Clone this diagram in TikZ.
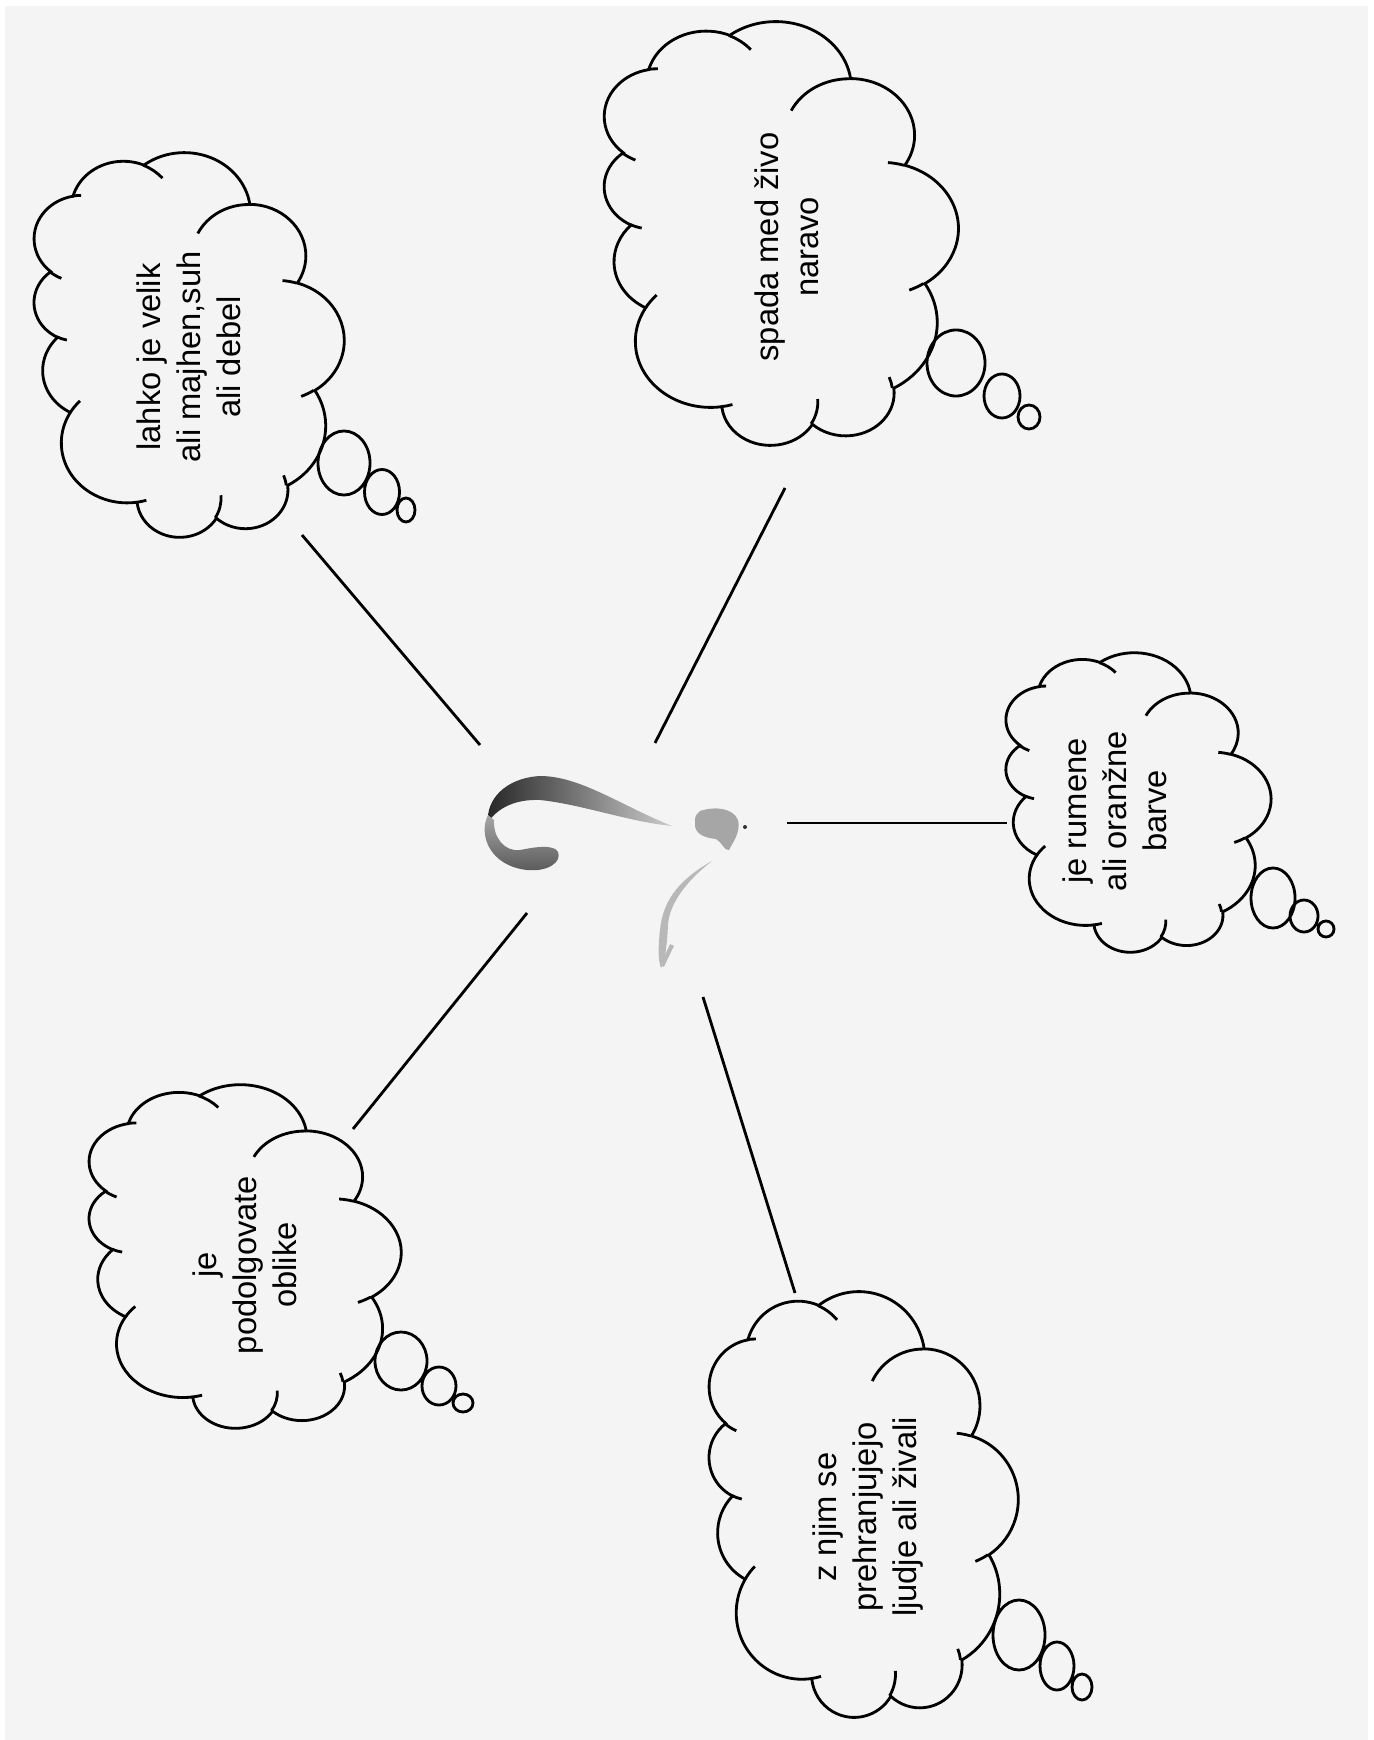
\documentclass[tikz,border=0pt]{standalone}
\usepackage{fontspec}
\setmainfont{Liberation Sans}
\definecolor{paper}{RGB}{244,244,244}

% thought cloud in a 4.32 x 4.32 box, drawn lying on its side later
\newcommand\cloudpath{%
  \draw (0.3900,-1.4370)
    arc[start angle=187.75, end angle=59.66, x radius=0.6753, y radius=0.9190]
    arc[start angle=152.02, end angle=45.46, x radius=0.5333, y radius=0.7267]
    arc[start angle=153.49, end angle=37.33, x radius=0.4365, y radius=0.5945]
    arc[start angle=139.71, end angle=10.22, x radius=0.4857, y radius=0.6595]
    arc[start angle=74.77, end angle=-23.21, x radius=0.5333, y radius=0.7273]
    arc[start angle=37.53, end angle=-81.86, x radius=0.6775, y radius=0.9220]
    arc[start angle=-0.46, end angle=-121.99, x radius=0.5785, y radius=0.7867]
    arc[start angle=-16.85, end angle=-146.23, x radius=0.6752, y radius=0.9215]
    arc[start angle=-58.97, end angle=-150.18, x radius=0.7720, y radius=1.0543]
    arc[start angle=276.69, end angle=136.88, x radius=0.4360, y radius=0.5918]
    arc[start angle=239.64, end angle=95.89, x radius=0.4345, y radius=0.5945]
    -- cycle;
  \draw (0.4693,-2.6177) arc[start angle=-85.54, end angle=-120.36, x radius=0.4345, y radius=0.5945]
    (0.6928,-3.4899) arc[start angle=-68.24, end angle=-83.31, x radius=0.4360, y radius=0.5918]
    (1.6478,-3.9090) arc[start angle=-146.23, end angle=-158.47, x radius=0.6752, y radius=0.9215]
    (2.8827,-3.4751) arc[start angle=-4.74, end angle=-16.85, x radius=0.6752, y radius=0.9215]
    (3.4129,-2.2954) arc[start angle=64.03, end angle=-0.46, x radius=0.5785, y radius=0.7867]
    (4.1798,-1.5354) arc[start angle=-23.21, end angle=-49.64, x radius=0.5333, y radius=0.7273]
    (3.8324,-0.5426) arc[start angle=10.22, end angle=-0.82, x radius=0.4857, y radius=0.6595]
    (2.9078,-0.3952) arc[start angle=156.30, end angle=139.71, x radius=0.4857, y radius=0.6595]
    (2.2141,-0.4720) arc[start angle=167.72, end angle=153.49, x radius=0.4365, y radius=0.5945]
    (1.4000,-0.5192) arc[start angle=59.66, end angle=45.75, x radius=0.6753, y radius=0.9190]
    (0.4127,-1.5789) arc[start angle=-163.19, end angle=-172.25, x radius=0.6753, y radius=0.9190];
}

\tikzset{
  thought/.style={font=\fontsize{9.3}{11.4}\selectfont, align=center, rotate=90, inner sep=0pt},
  puff/.style={line width=0.8pt}
}

\begin{document}
\begin{tikzpicture}[x=0.01cm, y=-0.01cm, line width=0.8pt]
    \useasboundingbox (0,0) rectangle (1374,1740);
    \fill[paper] (5,6) rectangle (1368,1740);

    % clouds
    \begin{scope}[shift={(33,537)}, x=1cm, y=1cm, xscale=310/432, yscale=384/432, rotate=90]
        \cloudpath
    \end{scope}
    \begin{scope}[shift={(603,445)}, x=1cm, y=1cm, xscale=354/432, yscale=423/432, rotate=90]
        \cloudpath
    \end{scope}
    \begin{scope}[shift={(1005,952)}, x=1cm, y=1cm, xscale=265/432, yscale=299/432, rotate=90]
        \cloudpath
    \end{scope}
    \begin{scope}[shift={(88,1428)}, x=1cm, y=1cm, xscale=312/432, yscale=343/432, rotate=90]
        \cloudpath
    \end{scope}
    \begin{scope}[shift={(708,1717)}, x=1cm, y=1cm, xscale=309/432, yscale=425/432, rotate=90]
        \cloudpath
    \end{scope}

    % little bubbles
    \draw[puff] (344,463) ellipse [x radius=0.26cm, y radius=0.32cm]
                (382,492) ellipse [x radius=0.175cm, y radius=0.225cm]
                (406,510) ellipse [x radius=0.09cm, y radius=0.12cm];
    \draw[puff] (956,363) ellipse [x radius=0.29cm, y radius=0.33cm]
                (1002,396) ellipse [x radius=0.18cm, y radius=0.22cm]
                (1029,417) ellipse [x radius=0.11cm, y radius=0.12cm];
    \draw[puff] (1273,898) ellipse [x radius=0.22cm, y radius=0.30cm]
                (1304,916) ellipse [x radius=0.14cm, y radius=0.16cm]
                (1326,929) ellipse [x radius=0.08cm, y radius=0.08cm];
    \draw[puff] (401,1361) ellipse [x radius=0.26cm, y radius=0.29cm]
                (439,1386) ellipse [x radius=0.17cm, y radius=0.19cm]
                (463,1403) ellipse [x radius=0.10cm, y radius=0.09cm];
    \draw[puff] (1019,1635) ellipse [x radius=0.26cm, y radius=0.35cm]
                (1057,1666) ellipse [x radius=0.17cm, y radius=0.24cm]
                (1082,1687) ellipse [x radius=0.10cm, y radius=0.13cm];

    % texts
    \node[thought] (velik) at (189,357) {lahko je velik\\ali majhen,suh\\ali debel};
    \node[thought] (narava) at (787,247) {spada med živo\\naravo};
    \node[thought] (barva) at (1115,811) {je rumene\\ali oranžne\\barve};
    \node[thought] (oblika) at (245,1265) {je\\podolgovate\\oblike};
    \node[thought] (hrana) at (868,1517) {z njim se\\prehranjujejo\\ljudje ali živali};

    % the question mark
    \shade[left color=black!85, right color=black!20] (488,822) .. controls (486,800) and (505,778) .. (540,776)
        .. controls (580,776) and (620,805) .. (672,826) .. controls (630,822) and (580,804) .. (540,800)
        .. controls (515,799) and (498,808) .. (488,822) -- cycle;
    \shade[top color=black!35, bottom color=black!65] (488,815) .. controls (478,835) and (490,866) .. (527,870)
        .. controls (548,872) and (562,862) .. (558,852) .. controls (554,844) and (535,847) .. (520,850)
        .. controls (505,852) and (493,838) .. (494,820) -- cycle;
    \fill[black!35] (700,811) .. controls (715,806) and (733,808) .. (738,820)
        .. controls (741,832) and (733,842) .. (729,850) .. controls (724,851) and (722,842) .. (716,839)
        .. controls (705,838) and (694,834) .. (695,823) .. controls (695,816) .. (700,811) -- cycle;
    \fill[black!80] (745,827) circle [radius=0.02cm];
    \fill[black!28] (712,861) .. controls (682,878) and (663,898) .. (660,930)
        .. controls (658,948) and (658,960) .. (661,968) .. controls (665,962) and (667,945) .. (668,925)
        .. controls (669,905) and (685,882) .. (712,861) -- cycle;
    \draw[black!28, line width=1.2pt] (662,966) -- (672,945);

    % lines
    \coordinate (q1) at (480,745); \coordinate (c1) at (302,535);
    \coordinate (q2) at (655,743); \coordinate (c2) at (785,488);
    \coordinate (q3) at (787,823); \coordinate (c3) at (1007,823);
    \coordinate (q4) at (527,913); \coordinate (c4) at (353,1129);
    \coordinate (q5) at (703,997); \coordinate (c5) at (795,1293);
    \draw (q1) -- (c1);
    \draw (q2) -- (c2);
    \draw (q3) -- (c3);
    \draw (q4) -- (c4);
    \draw (q5) -- (c5);
\end{tikzpicture}
\end{document}
